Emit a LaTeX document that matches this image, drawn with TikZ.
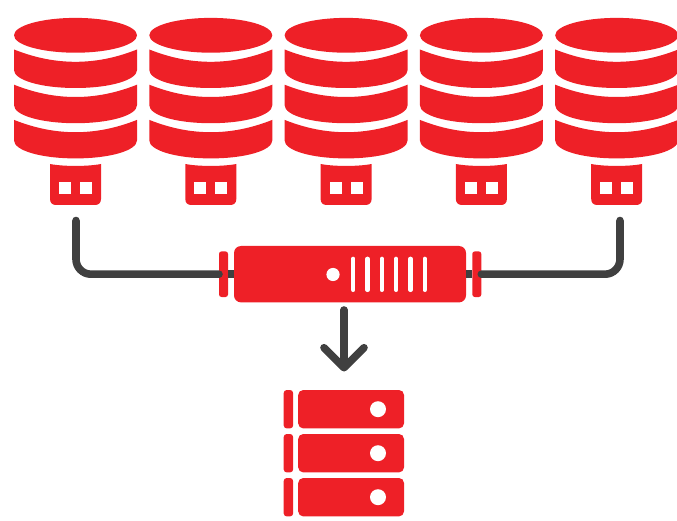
\documentclass[tikz,border=0pt]{standalone}
\usepackage{tikz}
\usetikzlibrary{arrows.meta}
\definecolor{color1}{HTML}{EE2027}
\definecolor{color2}{HTML}{404040}
\tikzset{
	part/.style={fill=color1, inner sep=0pt, outer sep=0pt, rounded corners=#1},
	part/.default=5pt,
	wire/.style={draw=color2, line width=7.6pt, line cap=round, line join=round},
}

\begin{document}
\begin{tikzpicture}[x=1pt, y=-1pt]
	\useasboundingbox (0,0) rectangle (677,521);

	% the five disk stacks with their plugs
	\foreach \cx in {75.5,210.8,346.1,481.4,616.7}{
		\begin{scope}[shift={(\cx,0)}]
			\fill[color1] (0,35.3) ellipse (61.5pt and 17.4pt);
			\foreach \dy in {0,35.2,70.4}{
				\fill[color1] (-61.5,49.5+\dy) .. controls (-40,58+\dy) and (-20,61.8+\dy) .. (0,61.8+\dy)
					.. controls (20,61.8+\dy) and (40,58+\dy) .. (61.5,49.5+\dy) -- (61.5,70+\dy)
					.. controls (61.5,80+\dy) and (35,88+\dy) .. (0,88+\dy)
					.. controls (-35,88+\dy) and (-61.5,80+\dy) .. (-61.5,70+\dy) -- cycle;
			}
			\fill[color1] (-25.5,164) .. controls (-12,166.6) and (12,166.6) .. (25.5,164) -- (25.5,199)
				.. controls (25.5,203) and (23,205) .. (19.5,205) -- (-19.5,205)
				.. controls (-23,205) and (-25.5,203) .. (-25.5,199) -- cycle;
			\fill[white] (-16.5,182) rectangle (-4.5,194);
			\fill[white] (4.5,182) rectangle (16.5,194);
		\end{scope}
	}

	% the box in the middle
	\node[part=7pt, minimum width=232pt, minimum height=56.4pt] (box) at (350,274.2) {};
	\node[part=2.5pt, minimum width=9pt, minimum height=45.6pt] (capl) at (223.5,274.2) {};
	\node[part=2.5pt, minimum width=9pt, minimum height=45.6pt] (capr) at (476.8,274.2) {};
	\fill[white] (333,274.5) circle (6.6pt);
	\foreach \sx in {353.3,367.6,381.9,396.2,410.5,424.7}{
		\draw[white, line width=4.3pt, line cap=round] (\sx,258.8) -- (\sx,289.9);
	}

	% the three server units
	\foreach \sy/\name in {409.2/a,453.2/b,497.2/c}{
		\node[part=3pt, minimum width=9.4pt, minimum height=38.4pt] (side\name) at (288.4,\sy) {};
		\node[part=5pt, minimum width=105.8pt, minimum height=38.4pt] (unit\name) at (351.1,\sy) {};
		\fill[white] (378,\sy) circle (8pt);
	}

	\coordinate (usbl) at (76,220.5);
	\coordinate (usbr) at (620,220.5);
	\coordinate (arrowtop) at (344,310);
	\coordinate (arrowtip) at (344,371.5);

	\draw[wire, rounded corners=15pt] (usbl) |- (capl.west);
	\draw[wire, rounded corners=15pt] (usbr) |- (capr.east);
	\draw[wire, line cap=butt] (capl) -- (box);
	\draw[wire, line cap=butt] (capr) -- (box);
	\draw[wire, -{Straight Barb[length=20pt, width=40pt, round]}] (arrowtop) -- (arrowtip);
\end{tikzpicture}
\end{document}
